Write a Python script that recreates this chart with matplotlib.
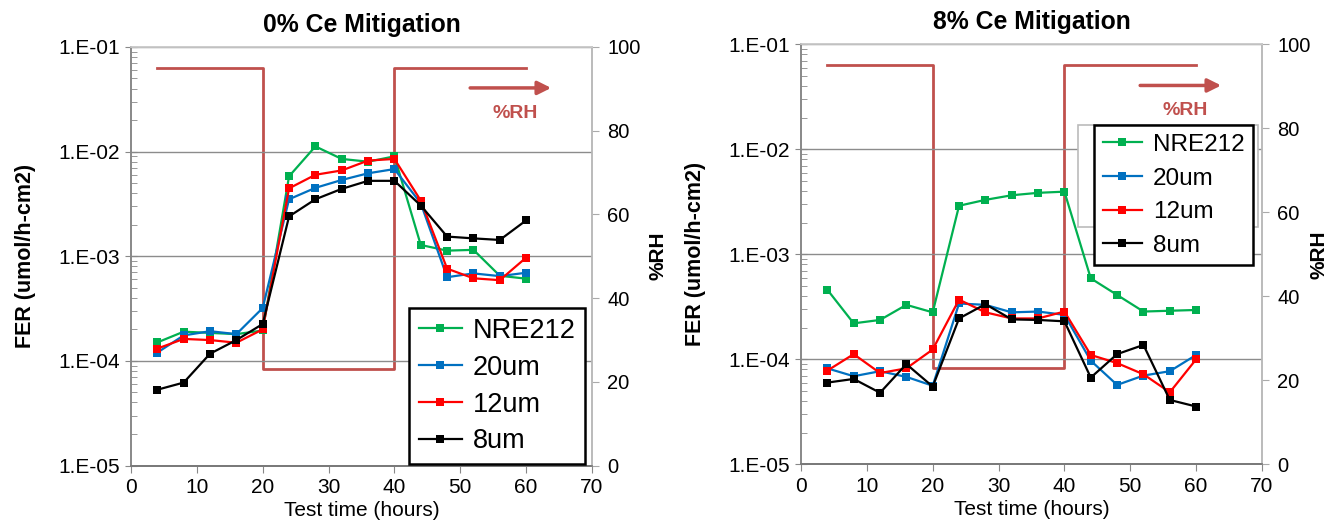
import matplotlib
matplotlib.use("Agg")
import matplotlib.pyplot as plt
from matplotlib.ticker import FixedLocator, FixedFormatter, LogLocator, NullFormatter
from matplotlib.patches import Rectangle

plt.rcParams['font.family'] = ['Liberation Sans', 'DejaVu Sans']

# Test time (hours) at each FER measurement
hours = [4, 8, 12, 16, 20, 24, 28, 32, 36, 40, 44, 48, 52, 56, 60]

# FER (umol/h-cm2), 0% Ce mitigation
nre212_0ce = [1.5e-4, 1.9e-4, 1.85e-4, 1.8e-4, 1.95e-4, 5.8e-3, 1.12e-2, 8.5e-3, 8.0e-3, 9.0e-3,
              1.28e-3, 1.13e-3, 1.15e-3, 6.5e-4, 6.1e-4]
um20_0ce = [1.2e-4, 1.75e-4, 1.92e-4, 1.8e-4, 3.2e-4, 3.5e-3, 4.5e-3, 5.35e-3, 6.2e-3, 6.8e-3,
            3.2e-3, 6.3e-4, 6.85e-4, 6.45e-4, 6.95e-4]
um12_0ce = [1.31e-4, 1.62e-4, 1.58e-4, 1.49e-4, 2.0e-4, 4.45e-3, 6.0e-3, 6.6e-3, 8.2e-3, 8.5e-3,
            3.4e-3, 7.6e-4, 6.15e-4, 5.9e-4, 9.7e-4]
um8_0ce = [5.3e-5, 6.2e-5, 1.17e-4, 1.58e-4, 2.25e-4, 2.4e-3, 3.5e-3, 4.4e-3, 5.25e-3, 5.25e-3,
           3.05e-3, 1.54e-3, 1.48e-3, 1.43e-3, 2.2e-3]

# FER (umol/h-cm2), 8% Ce mitigation
nre212_8ce = [4.6e-4, 2.2e-4, 2.37e-4, 3.3e-4, 2.8e-4, 2.9e-3, 3.3e-3, 3.65e-3, 3.85e-3, 3.95e-3,
              5.9e-4, 4.1e-4, 2.85e-4, 2.9e-4, 2.95e-4]
um20_8ce = [8.2e-5, 6.9e-5, 7.7e-5, 6.8e-5, 5.6e-5, 3.4e-4, 3.3e-4, 2.8e-4, 2.85e-4, 2.65e-4,
            9.7e-5, 5.7e-5, 7.0e-5, 7.7e-5, 1.1e-4]
um12_8ce = [7.8e-5, 1.12e-4, 7.4e-5, 8.2e-5, 1.24e-4, 3.7e-4, 2.8e-4, 2.45e-4, 2.45e-4, 2.85e-4,
            1.1e-4, 9.2e-5, 7.2e-5, 4.85e-5, 1.0e-4]
um8_8ce = [6.0e-5, 6.5e-5, 4.8e-5, 9.0e-5, 5.5e-5, 2.45e-4, 3.35e-4, 2.4e-4, 2.37e-4, 2.3e-4,
           6.7e-5, 1.12e-4, 1.37e-4, 4.1e-5, 3.55e-5]

# Relative humidity cycle
rh_hours = [4, 20, 20, 40, 40, 60]
rh_values = [95, 95, 23, 23, 95, 95]

series_names = ["NRE212", "20um", "12um", "8um"]
series_colors = ["#00B050", "#0070C0", "#FF0000", "#000000"]
panel_titles = ["0% Ce Mitigation", "8% Ce Mitigation"]
fer_ticks = [1e-5, 1e-4, 1e-3, 1e-2, 1e-1]
fer_tick_labels = ["1.E-05", "1.E-04", "1.E-03", "1.E-02", "1.E-01"]
rh_ticks = [0, 20, 40, 60, 80, 100]
x_ticks = [0, 10, 20, 30, 40, 50, 60, 70]

RH_COLOR = "#C0504D"
W, H = 1331, 522

fig = plt.figure(figsize=(W / 100, H / 100), dpi=100)

panels = [
    ([nre212_0ce, um20_0ce, um12_0ce, um8_0ce], (131, 46.9, 592, 465.5)),
    ([nre212_8ce, um20_8ce, um12_8ce, um8_8ce], (801, 44.3, 1262, 464.3)),
]

for idx, (data, (x0, y0, x1, y1)) in enumerate(panels):
    ax = fig.add_axes([x0 / W, 1 - y1 / H, (x1 - x0) / W, (y1 - y0) / H])
    axr = ax.twinx()
    ax.set_zorder(axr.get_zorder() + 1)
    ax.patch.set_visible(False)

    # %RH step on the secondary axis
    axr.plot(rh_hours, rh_values, color=RH_COLOR, lw=2.0)
    axr.set_ylim(0, 100)
    axr.yaxis.set_major_locator(FixedLocator(rh_ticks))
    axr.tick_params(axis='y', direction='out', length=5, color='#AAAAAA',
                    labelsize=14.5, pad=6)
    axr.set_ylabel("%RH", fontsize=15, fontweight='bold', labelpad=6)
    if idx == 1:
        # keep the right-hand label inside the figure edge
        axr.yaxis.set_label_coords(1.103, 0.5)
    axr.annotate('', xy=(63.8, 90.2), xytext=(51.5, 90.2),
                 arrowprops=dict(arrowstyle='-|>', color=RH_COLOR, lw=2.5,
                                 mutation_scale=20, shrinkA=0, shrinkB=0))
    axr.text(58.4, 84.2, "%RH", color=RH_COLOR, fontsize=14, fontweight='bold',
             ha='center', va='center')

    # FER series
    handles = []
    for vals, name, col in zip(data, series_names, series_colors):
        h, = ax.plot(hours, vals, color=col, lw=1.6, marker='s', markersize=6,
                     markeredgewidth=0, label=name)
        handles.append(h)

    ax.set_yscale('log')
    ax.set_ylim(1e-5, 1e-1)
    ax.set_xlim(0, 70)
    ax.yaxis.set_major_locator(FixedLocator(fer_ticks))
    ax.yaxis.set_major_formatter(FixedFormatter(fer_tick_labels))
    ax.yaxis.set_minor_locator(LogLocator(base=10, subs=range(2, 10)))
    ax.yaxis.set_minor_formatter(NullFormatter())
    ax.xaxis.set_major_locator(FixedLocator(x_ticks))
    ax.grid(axis='y', which='major', color='#8C8C8C', lw=1.0)
    ax.tick_params(axis='y', which='major', direction='inout', length=8,
                   color='#888888', labelsize=15, pad=4)
    ax.tick_params(axis='y', which='minor', direction='in', length=4,
                   color='#888888')
    ax.tick_params(axis='x', direction='out', length=5, color='#888888',
                   labelsize=15, pad=4)
    ax.set_ylabel("FER (umol/h-cm2)", fontsize=15.5, fontweight='bold', labelpad=16)
    ax.set_xlabel("Test time (hours)", fontsize=15, labelpad=3)
    ax.set_title(panel_titles[idx], fontsize=17.8, fontweight='bold', pad=11)

    for side, col in [('left', '#888888'), ('bottom', '#777777'),
                      ('top', '#CCCCCC'), ('right', '#BBBBBB')]:
        ax.spines[side].set_color(col)
        axr.spines[side].set_color(col)
    for a in (ax, axr):
        for s in a.spines.values():
            s.set_linewidth(1.2)

    if idx == 0:
        leg = ax.legend(handles=handles, loc='lower right',
                        bbox_to_anchor=(0.985, 0.004), fontsize=19.5,
                        handlelength=1.6, handletextpad=0.4,
                        labelspacing=0.4, borderpad=0.35, borderaxespad=0,
                        fancybox=False, framealpha=1, edgecolor='black')
    else:
        ax.add_patch(Rectangle((0.601, 0.565), 0.39, 0.242,
                               transform=ax.transAxes, facecolor='white',
                               edgecolor='#BBBBBB', lw=1.2, zorder=4))
        leg = ax.legend(handles=handles, loc='upper right',
                        bbox_to_anchor=(0.980, 0.807), fontsize=17.5,
                        handlelength=1.6, handletextpad=0.45,
                        labelspacing=0.48, borderpad=0.35, borderaxespad=0,
                        fancybox=False, framealpha=1, edgecolor='black')
    leg.get_frame().set_linewidth(1.8)
    leg.set_zorder(5)

fig.savefig("out.png", dpi=100)
